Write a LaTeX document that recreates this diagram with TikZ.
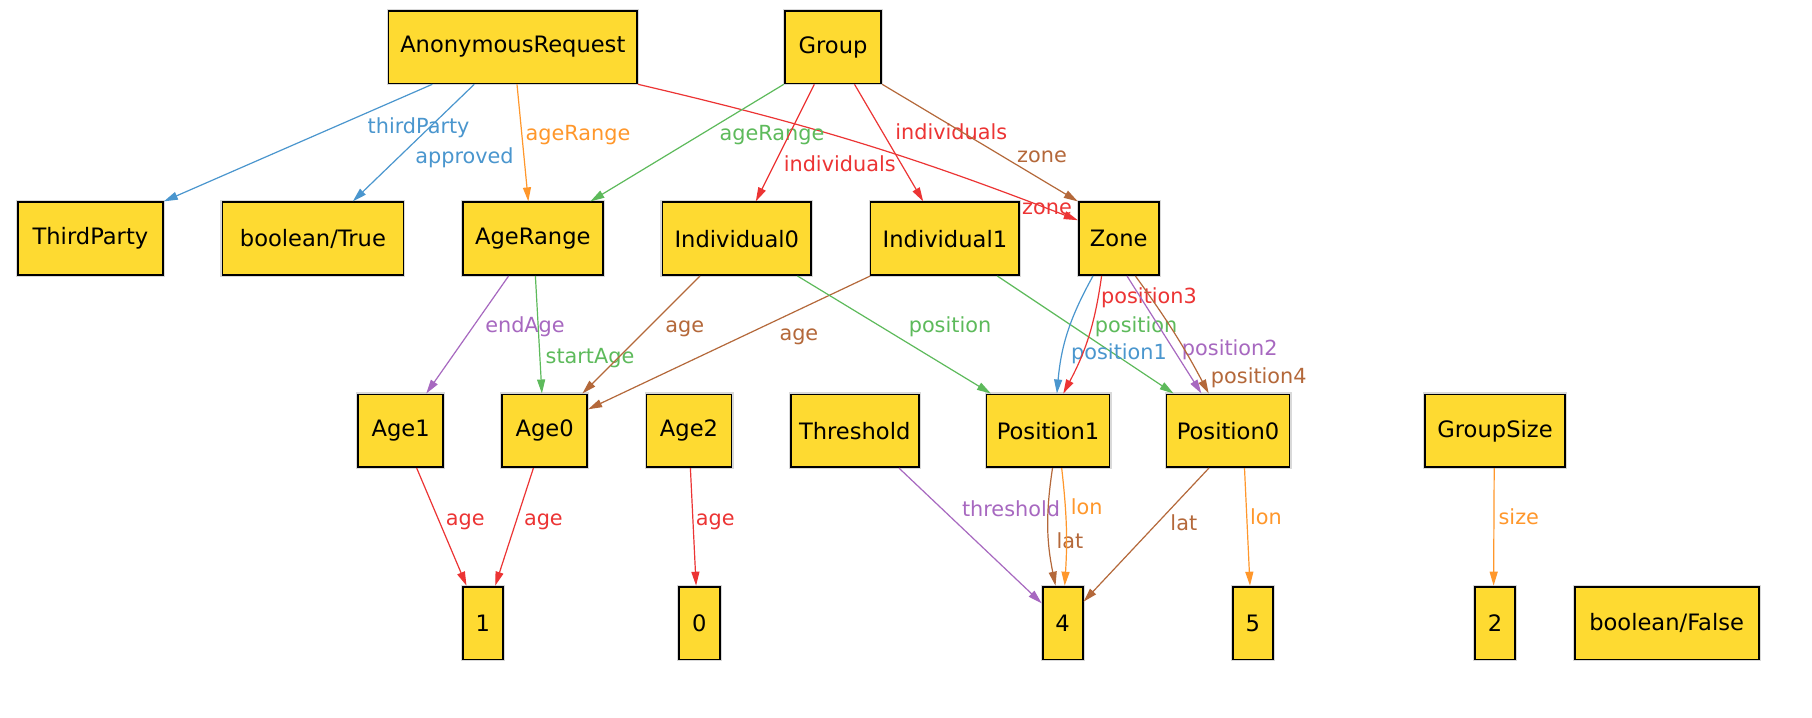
\documentclass[tikz,border=0pt]{standalone}
\usepackage{fontspec}
\setmainfont{DejaVu Sans}
\usetikzlibrary{arrows.meta,calc}
\definecolor{nodefill}{RGB}{254,218,49}
\definecolor{cblue}{RGB}{74,150,206}
\definecolor{corange}{RGB}{255,151,43}
\definecolor{cgreen}{RGB}{93,186,91}
\definecolor{cred}{RGB}{236,52,52}
\definecolor{cpurple}{RGB}{167,104,192}
\definecolor{cbrown}{RGB}{180,104,58}
\begin{document}
\begin{tikzpicture}[x=0.5pt,y=-0.5pt,
  box/.style={draw=black, line width=0.9pt, fill=nodefill,
    preaction={draw=black!15, line width=2.0pt},
    inner sep=0pt, minimum height=36.4pt,
    font=\fontsize{11.3}{13}\selectfont},
  lbl/.style={inner sep=0pt, font=\fontsize{10.4}{12}\selectfont,
    text height=0.75em, text depth=0.2em},
  edge/.style={line width=0.6pt, -{Triangle[length=7pt,width=4pt]}},
]
\useasboundingbox (0,0) rectangle (1812,718);
\fill[white] (0,0) rectangle (1812,718);

% row 1
\node[box, minimum width=124.3pt] (ar)  at (512.8,47) {AnonymousRequest};
\node[box, minimum width=48.3pt]  (grp) at (833,47) {Group};
% row 2
\node[box, minimum width=72.5pt] (tp)   at (90.4,238.7) {ThirdParty};
\node[box, minimum width=90.5pt] (bt)   at (312.9,238.7) {boolean/True};
\node[box, minimum width=70pt]   (agr)  at (532.8,238.7) {AgeRange};
\node[box, minimum width=74.4pt] (ind0) at (736.8,238.7) {Individual0};
\node[box, minimum width=74.4pt] (ind1) at (944.9,238.7) {Individual1};
\node[box, minimum width=40pt]   (zone) at (1118.7,238.7) {Zone};
% row 3
\node[box, minimum width=42.5pt] (age1) at (400.6,430.8) {Age1};
\node[box, minimum width=42.5pt] (age0) at (544.7,430.8) {Age0};
\node[box, minimum width=42.5pt] (age2) at (689,430.8) {Age2};
\node[box, minimum width=64pt]   (thr)  at (854.7,430.8) {Threshold};
\node[box, minimum width=61.5pt] (pos1) at (1048,430.8) {Position1};
\node[box, minimum width=61.5pt] (pos0) at (1228,430.8) {Position0};
\node[box, minimum width=70pt]   (gs)   at (1495,430.8) {GroupSize};
% row 4
\node[box, minimum width=20pt]   (n1) at (482.7,623) {1};
\node[box, minimum width=20.5pt] (n0) at (699.4,623) {0};
\node[box, minimum width=20pt]   (n4) at (1062.6,623) {4};
\node[box, minimum width=20pt]   (n5) at (1252.8,623) {5};
\node[box, minimum width=20pt]   (n2) at (1495,623) {2};
\node[box, minimum width=92pt]   (bf) at (1666.6,623) {boolean/False};

% edges
\draw[edge,cblue] ($(ar.south)+(-80.5,0)$) -- (tp.north east) node[lbl] at (418.6,128) {thirdParty};
\draw[edge,cblue] ($(ar.south)+(-38.5,0)$) -- ($(bt.north)+(39.9,0)$) node[lbl] at (464.5,158) {approved};
\draw[edge,corange] ($(ar.south)+(4.2,0)$) -- ($(agr.north)+(-4.5,0)$) node[lbl] at (578,135) {ageRange};
\draw[edge,cred] (ar.south east) to[bend left=4] ($(zone.west)+(0,-18.5)$) node[lbl] at (1047,209) {zone};
\draw[edge,cgreen] (grp.south west) -- ($(agr.north)+(57.6,0)$) node[lbl] at (772,135) {ageRange};
\draw[edge,cred] ($(grp.south)+(-18.7,0)$) -- ($(ind0.north)+(19,0)$) node[lbl] at (839.7,165.7) {individuals};
\draw[edge,cred] ($(grp.south)+(21.5,0)$) -- ($(ind1.north)+(-21.7,0)$) node[lbl] at (951.3,134.3) {individuals};
\draw[edge,cbrown] (grp.south east) -- (zone.north west) node[lbl] at (1042,156.7) {zone};
\draw[edge,cpurple] ($(agr.south)+(-24.2,0)$) -- ($(age1.north)+(25.7,0)$) node[lbl] at (525,327.3) {endAge};
\draw[edge,cgreen] ($(agr.south)+(2.6,0)$) -- ($(age0.north)+(-2.8,0)$) node[lbl] at (590,358.3) {startAge};
\draw[edge,cbrown] ($(ind0.south)+(-36.8,0)$) -- ($(age0.north)+(37.7,0)$) node[lbl] at (684.8,327.3) {age};
\draw[edge,cbrown] ($(ind1.south)+(-74.7,0)$) -- ($(age0.east)+(0,-21.5)$) node[lbl] at (798.9,335) {age};
\draw[edge,cgreen] ($(ind0.south)+(60.7,0)$) -- ($(pos1.north)+(-57.1,0)$) node[lbl] at (950,326.7) {position};
\draw[edge,cgreen] ($(ind1.south)+(52.4,0)$) -- ($(pos0.north)+(-54.4,0)$) node[lbl] at (1136,326.7) {position};
\draw[edge,cblue] ($(zone.south)+(-25.7,0)$) to[bend right=12] ($(pos1.north)+(8.9,0)$) node[lbl] at (1119,354.3) {position1};
\draw[edge,cred] ($(zone.south)+(-17.1,0)$) to[bend left=10] ($(pos1.north)+(15.3,0)$) node[lbl] at (1149,298.3) {position3};
\draw[edge,cpurple] ($(zone.south)+(8.3,0)$) -- ($(pos0.north)+(-26.6,0)$) node[lbl] at (1229.8,350) {position2};
\draw[edge,cbrown] ($(zone.south)+(16.7,0)$) to[bend left=4] ($(pos0.north)+(-19.3,0)$) node[lbl] at (1258.8,378.3) {position4};
\draw[edge,cred] ($(age1.south)+(16.1,0)$) -- ($(n1.north)+(-16.2,0)$) node[lbl] at (465.2,520) {age};
\draw[edge,cred] ($(age0.south)+(-11.3,0)$) -- ($(n1.north)+(12.5,0)$) node[lbl] at (543.4,520) {age};
\draw[edge,cred] ($(age2.south)+(1.4,0)$) -- ($(n0.north)+(-3.3,0)$) node[lbl] at (715.2,520) {age};
\draw[edge,cpurple] ($(thr.south)+(44.3,0)$) -- ($(n4.west)+(0,-19.7)$) node[lbl] at (1011,510.7) {threshold};
\draw[edge,cbrown] ($(pos1.south)+(4.5,0)$) to[bend right=10] ($(n4.north)+(-7.1,0)$) node[lbl] at (1069.9,543.3) {lat};
\draw[edge,corange] ($(pos1.south)+(13.7,0)$) to[bend left=5] ($(n4.north)+(2.1,0)$) node[lbl] at (1086.8,509.3) {lon};
\draw[edge,cbrown] ($(pos0.south)+(-19.1,0)$) -- ($(n4.east)+(0,-21.3)$) node[lbl] at (1183.8,525) {lat};
\draw[edge,corange] ($(pos0.south)+(16.5,0)$) -- ($(n5.north)+(-2.8,0)$) node[lbl] at (1266,519) {lon};
\draw[edge,corange] ($(gs.south)+(-0.8,0)$) -- ($(n2.north)+(-1.4,0)$) node[lbl] at (1518.8,519) {size};
\end{tikzpicture}
\end{document}
